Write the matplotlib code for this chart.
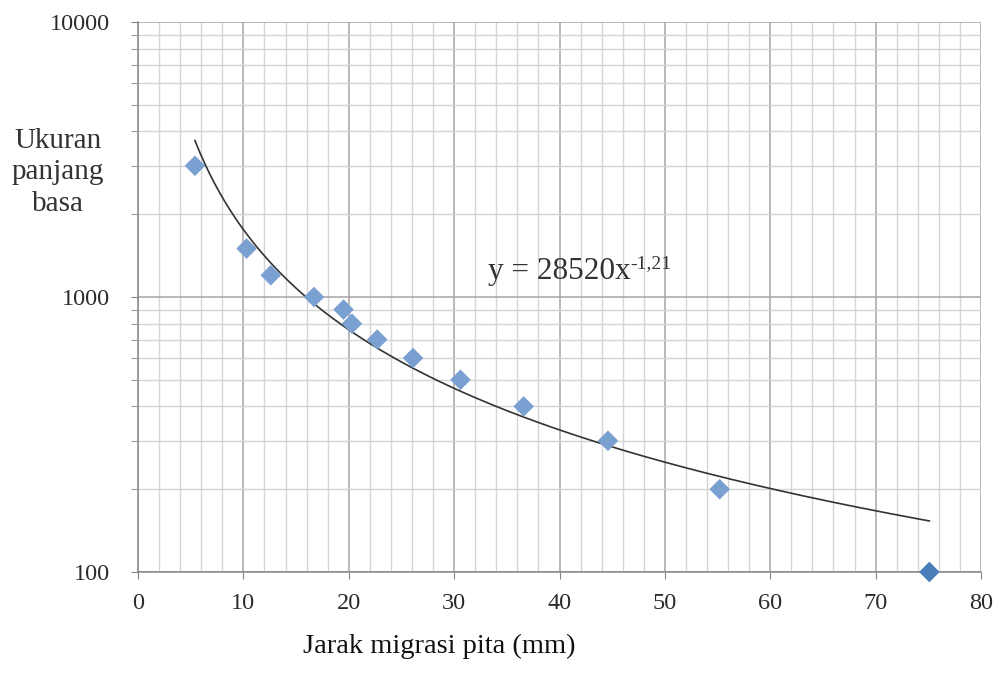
import numpy as np
import matplotlib
matplotlib.use('Agg')
import matplotlib.pyplot as plt
from matplotlib.ticker import FixedLocator, LogLocator, NullFormatter

# Migration distance of each band (mm) and its size in base pairs
jarak_mm = [5.4, 10.3, 12.6, 16.7, 19.5, 20.3, 22.7, 26.1, 30.6, 36.6, 44.6, 55.2, 75.1]
ukuran_bp = [3000, 1500, 1200, 1000, 900, 800, 700, 600, 500, 400, 300, 200, 100]

# Power trendline coefficients y = a * x^b
koef_a = 28520
koef_b = -1.21

x_ticks = [0, 10, 20, 30, 40, 50, 60, 70, 80]
y_ticks = [100, 1000, 10000]

plt.rcParams['font.family'] = ['Liberation Serif', 'DejaVu Serif']

fig = plt.figure(figsize=(10.01, 6.77), dpi=100)
ax = fig.add_axes([0.1379, 0.1551, 0.8421, 0.8124])

# Grid first so markers and the curve sit on top
ax.set_yscale('log')
ax.set_xlim(0, 80)
ax.set_ylim(100, 10000)
ax.xaxis.set_major_locator(FixedLocator(x_ticks))
ax.xaxis.set_minor_locator(FixedLocator(np.arange(0, 81, 2)))
ax.yaxis.set_major_locator(FixedLocator(y_ticks))
ax.yaxis.set_minor_locator(LogLocator(base=10, subs=np.arange(2, 10)))
ax.yaxis.set_minor_formatter(NullFormatter())
ax.set_yticklabels([str(v) for v in y_ticks])
ax.grid(True, which='major', color='#a6a6a6', linewidth=1.1)
ax.grid(True, which='minor', color='#d4d4d4', linewidth=1.0)
ax.set_axisbelow(True)

for side in ['top', 'right']:
    ax.spines[side].set_visible(False)
for side in ['left', 'bottom']:
    ax.spines[side].set_color('#868686')
    ax.spines[side].set_linewidth(1.1)

ax.tick_params(axis='both', which='major', direction='out', length=5, color='#868686',
               labelsize=17.5, labelcolor='#2b2b2b')
ax.tick_params(axis='x', which='major', pad=10)
ax.tick_params(axis='y', which='major', pad=15)
ax.tick_params(axis='x', which='minor', length=0)
ax.tick_params(axis='y', which='minor', direction='out', length=5, color='#868686')

# Trendline over the range of the data
x_fit = np.linspace(min(jarak_mm), max(jarak_mm), 300)
y_fit = koef_a * x_fit ** koef_b
ax.plot(x_fit, y_fit, color='#333333', linewidth=1.2, zorder=3)

# Data points (last band drawn in a darker shade)
ax.scatter(jarak_mm[:-1], ukuran_bp[:-1], marker='D', s=110, color='#7aa0d2',
           edgecolors='none', zorder=4, clip_on=False)
ax.scatter(jarak_mm[-1:], ukuran_bp[-1:], marker='D', s=110, color='#4a7ebb',
           edgecolors='none', zorder=4, clip_on=False)

# Equation of the trendline with its exponent as a superscript
eq = ax.text(33.2, 1161, 'y = 28520x', fontsize=22.5, color='#333333',
             va='baseline', ha='left')
renderer = fig.canvas.get_renderer()
bb = eq.get_window_extent(renderer=renderer)
fig.text(bb.x1 / fig.bbox.width, 1 - 268 / 677, '-1,21',
         fontsize=14, color='#333333', va='baseline', ha='left')

fig.text(0.058, 1 - 211 / 677, 'Ukuran\npanjang\nbasa', fontsize=21, color='#333333',
         ha='center', va='baseline', linespacing=1.28, multialignment='center')
fig.text(0.4385, 0.0355, 'Jarak migrasi pita (mm)', fontsize=20.5, color='#111111',
         ha='center', va='baseline')

plt.savefig('out.png', dpi=100)
